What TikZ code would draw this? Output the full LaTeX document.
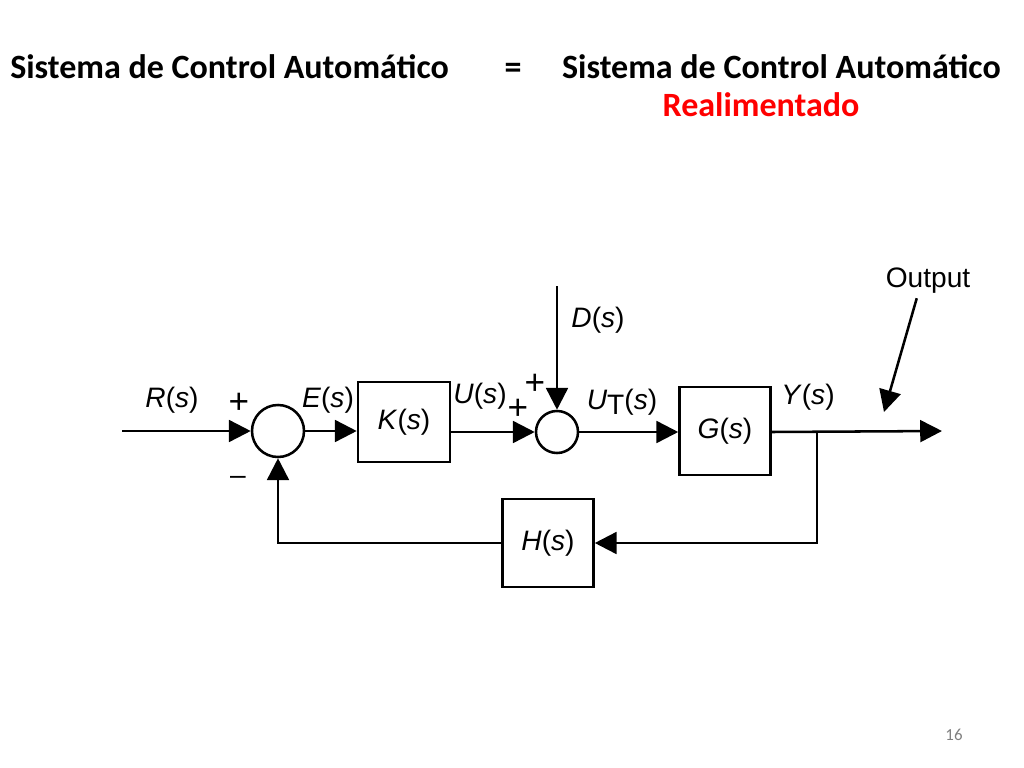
\documentclass[tikz,border=0pt]{standalone}
\usepackage{fontspec}
\setmainfont{Liberation Sans}
\newfontfamily\titlefont{Carlito}
\usepackage{tikz}
\usetikzlibrary{arrows.meta,positioning}

\newcommand{\sig}[1]{\textit{#1}(\textit{s})}

\tikzset{
  blk/.style={rectangle,draw,line width=1.8pt,minimum width=2.3cm,minimum height=2.05cm,inner sep=0pt},
  sumpt/.style={circle,draw,line width=1.8pt,inner sep=0pt},
  sig/.style={line width=1.8pt,-{Triangle[length=15.5pt,width=15.5pt]}},
  lbl/.style={font=\fontsize{20}{22}\selectfont,inner sep=0pt},
  sgn/.style={font=\fontsize{25}{27}\selectfont,inner sep=0pt},
  ttl/.style={anchor=base,inner sep=0pt,font=\titlefont\bfseries\fontsize{24.2}{28}\selectfont},
}

\begin{document}
\begin{tikzpicture}[x=0.025cm,y=-0.025cm]
    \useasboundingbox (0,0) rectangle (1024,768);

    % Title
    \node[ttl,anchor=base west] (t1) at (10,79) {Sistema de Control Automático};
    \node[ttl] (teq) at (513,79) {=};
    \node[ttl,anchor=base east] (t2) at (1001,79) {Sistema de Control Automático};
    \node[ttl,text=red] (t3) at (761,117) {Realimentado};

    % Blocks
    \node[sumpt,minimum size=1.3cm] (sum1) at (278,431) {};
    \node[blk,minimum height=2.0cm] (K) at (404,422) {};
    \node[lbl] (Kt) at (K) {\sig{K}};
    \node[sumpt,minimum size=1.05cm] (sum2) at (557,432) {};
    \node[blk,minimum width=2.275cm,minimum height=2.2cm] (G) at (725,431) {};
    \node[lbl] (Gt) at (G) {\sig{G}};
    \node[blk,minimum width=2.275cm,minimum height=2.2cm] (H) at (548,543) {};
    \node[lbl] (Ht) at (H) {\sig{H}};

    % Free ends
    \coordinate (in) at (122,431);
    \coordinate (dtop) at (557,286);
    \coordinate (yend) at (942,431);
    \coordinate (branch) at (817,431);
    \coordinate (otip) at (884,412);

    % Signals
    \draw[sig] (in) -- (sum1);
    \draw[sig] (sum1.east) -- (sum1.east -| K.west);
    \draw[sig] (K.east |- sum2.west) -- (sum2.west);
    \draw[sig] (dtop) -- (sum2.north);
    \draw[sig] (sum2.east) -- (sum2.east -| G.west);
    \draw[sig] (G.east |- sum2.east) -- (yend);
    \draw[sig] (branch) |- (H.east);
    \draw[sig] (H.west) -| (sum1.south);

    % Labels
    \node[lbl] (lR) at (172,400) {\sig{R}};
    \node[sgn] (lp1) at (239,403) {+};
    \node[lbl] (lm1) at (238,480) {\textendash};
    \node[lbl] (lE) at (328,400) {\sig{E}};
    \node[lbl] (lU) at (480,396) {\sig{U}};
    \node[sgn] (lp2) at (535,384) {+};
    \node[sgn] (lp3) at (518,409) {+};
    \node[lbl] (lD) at (598,320) {\sig{D}};
    \node[lbl] (lUT) at (622,402) {\textit{U}\raisebox{-0.35ex}{T}(\textit{s})};
    \node[lbl] (lY) at (808,397) {\sig{Y}};
    \node[lbl] (outlbl) at (928,281) {Output};
    \draw[sig] ([xshift=-8pt,yshift=-3pt]outlbl.south) -- (otip);

    % Page number
    \node[inner sep=0pt,text=gray,font=\titlefont\fontsize{12}{14}\selectfont] (pg) at (954,735) {16};
\end{tikzpicture}
\end{document}
